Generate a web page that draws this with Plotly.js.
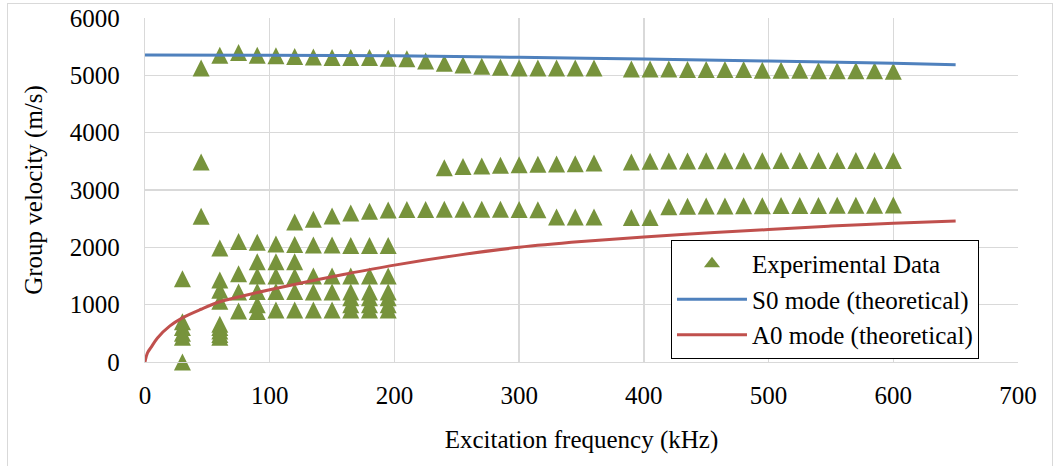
<!DOCTYPE html>
<html><head><meta charset="utf-8">
<script src="https://cdn.plot.ly/plotly-3.0.1.min.js"></script>
<style>
html,body{margin:0;padding:0;background:#fff;}
#wrap{position:relative;width:1056px;height:466px;overflow:hidden;}
#chart{width:1056px;height:466px;}
#frame{position:absolute;left:7px;top:3px;width:1046px;height:470px;border:1px solid #d9d9d9;pointer-events:none;box-sizing:border-box;}
</style></head><body>
<div id="wrap"><div id="chart"></div><div id="frame"></div></div>
<script>
// Experimental data, S0-like upper branch (kHz, m/s)
const rowS0Freq = [45,60,75,90,105,120,135,150,165,180,195,210,225,240,255,270,285,300,315,330,345,360,390,405,420,435,450,465,480,495,510,525,540,555,570,585,600];
const rowS0Vel  = [5130,5350,5400,5350,5340,5330,5320,5310,5310,5310,5300,5290,5250,5210,5180,5160,5140,5130,5130,5130,5130,5130,5110,5110,5110,5100,5100,5100,5100,5090,5090,5090,5080,5080,5080,5080,5070];
// Experimental data, branch near 3400-3500 m/s
const row3500Freq = [45,240,255,270,285,300,315,330,345,360,390,405,420,435,450,465,480,495,510,525,540,555,570,585,600];
const row3500Vel  = [3490,3390,3410,3420,3430,3440,3450,3455,3460,3470,3490,3500,3505,3505,3510,3510,3510,3510,3515,3515,3515,3515,3515,3515,3515];
// Experimental data, branch near 2500-2750 m/s
const row2700Freq = [45,120,135,150,165,180,195,210,225,240,255,270,285,300,315,330,345,360,390,405,420,435,450,465,480,495,510,525,540,555,570,585,600];
const row2700Vel  = [2540,2440,2490,2545,2600,2630,2650,2660,2660,2665,2665,2665,2665,2660,2655,2530,2530,2530,2520,2520,2710,2715,2720,2720,2725,2725,2730,2730,2730,2735,2735,2735,2740];
// Experimental data, branch near 2000 m/s
const row2000Freq = [60,75,90,105,120,135,150,165,180,195];
const row2000Vel  = [1990,2100,2090,2060,2050,2040,2040,2030,2030,2030];
// Experimental data, low-velocity cluster
const lowFreq = [30,30,30,30,30,30, 60,60,60,60,60,60,60,60, 75,75,75, 90,90,90,90,90, 105,105,105,105, 120,120,120,120, 135,135,135, 150,150,150, 165,165,165,165,165, 180,180,180,180,180, 195,195,195,195,195];
const lowVel  = [1450,700,600,500,430,0, 1430,1250,1060,660,600,540,480,430, 1540,1220,890, 1750,1500,1230,1000,880, 1750,1500,1230,905, 1750,1490,1230,905, 1500,1220,905, 1500,1220,905, 1500,1220,1120,1000,905, 1500,1220,1120,1000,905, 1500,1220,1120,1000,905];
// Theoretical curves
const s0Freq = [0,100,200,300,400,500,600,650];
const s0Vel  = [5355,5350,5340,5315,5285,5250,5210,5185];
const a0Freq = [0,2,5,10,20,30,45,60,80,100,130,160,200,250,300,350,400,450,500,550,600,650];
const a0Vel  = [0,160,260,420,630,770,920,1050,1160,1260,1400,1530,1690,1860,2000,2100,2180,2250,2310,2370,2420,2460];
// Axis ticks
const xTicks = [0,100,200,300,400,500,600,700];
const yTicks = [0,1000,2000,3000,4000,5000,6000];
const names = ['Experimental Data','S0 mode (theoretical)','A0 mode (theoretical)'];

const expFreq = [].concat(rowS0Freq,row3500Freq,row2700Freq,row2000Freq,lowFreq);
const expVel  = [].concat(rowS0Vel,row3500Vel,row2700Vel,row2000Vel,lowVel);

const FONT = '"Liberation Serif", "Times New Roman", Times, serif';
const GREEN = '#77933c';
const traces = [
  // legend entry for the experimental data (triangle symbol)
  {type:'scatter', mode:'markers', name:names[0], x:[null], y:[null],
   marker:{symbol:'triangle-up', size:14, color:GREEN}},
  {type:'scatter', mode:'markers', name:names[0], x:expFreq, y:expVel, cliponaxis:false, showlegend:false,
   marker:{symbol:'arrow-down', angle:180, standoff:8.5, size:17, color:GREEN, line:{width:0}}},
  {type:'scatter', mode:'lines', name:names[1], x:s0Freq, y:s0Vel, line:{color:'#4f81bd', width:3, shape:'spline'}},
  {type:'scatter', mode:'lines', name:names[2], x:a0Freq, y:a0Vel, line:{color:'#c0504d', width:3, shape:'spline'}}
];
const axisCommon = {showgrid:true, gridcolor:'#d9d9d9', gridwidth:1.3, showline:true, linecolor:'#d9d9d9', linewidth:1.3,
  zeroline:false, ticks:'', tickfont:{family:FONT, size:25, color:'#000'}, fixedrange:true};
const layout = {
  width:1056, height:466,
  margin:{l:145, r:38, t:18, b:104},
  paper_bgcolor:'rgba(0,0,0,0)', plot_bgcolor:'#fff',
  font:{family:FONT, size:25, color:'#000'},
  xaxis:Object.assign({}, axisCommon, {range:[0,700], tickmode:'array', tickvals:xTicks, ticktext:xTicks.map(String),
    ticklabelstandoff:11, title:{text:'Excitation frequency (kHz)', font:{family:FONT, size:25, color:'#000'}, standoff:22}}),
  yaxis:Object.assign({}, axisCommon, {range:[0,6000], tickmode:'array', tickvals:yTicks, ticktext:yTicks.map(String),
    ticklabelstandoff:19, title:{text:'Group velocity (m/s)', font:{family:FONT, size:25, color:'#000'}, standoff:20}}),
  showlegend:true,
  legend:{x:0.6025, y:0.3547, xanchor:'left', yanchor:'top', bgcolor:'#fff', bordercolor:'#000', borderwidth:1,
    font:{family:FONT, size:25, color:'#000'}, itemwidth:70}
};
Plotly.newPlot('chart', traces, layout, {staticPlot:true, displayModeBar:false});
</script>
</body></html>
